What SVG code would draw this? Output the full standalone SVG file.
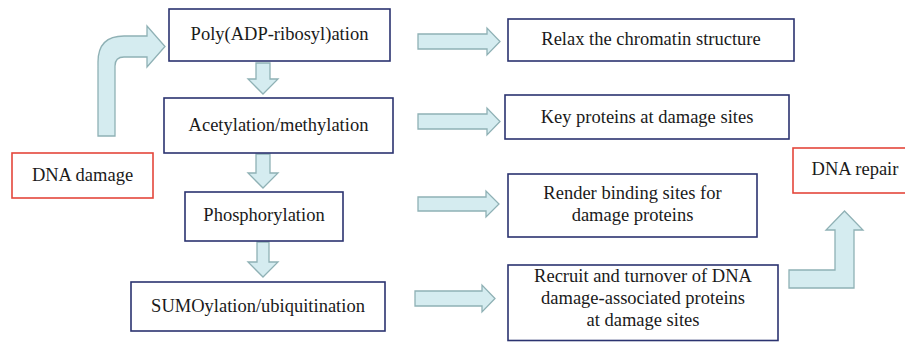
<svg xmlns="http://www.w3.org/2000/svg" width="905" height="342" viewBox="0 0 905 342">
<style>
.box{fill:#fff;stroke:#2b3370;stroke-width:1.6}
.red{fill:#fff;stroke:#e4463b;stroke-width:1.6}
.arr{fill:#d5ecf0;stroke:#8fb1b5;stroke-width:1.3;stroke-linejoin:miter}
text{font-family:"Liberation Serif","Times New Roman",serif;font-size:18.5px;fill:#1a1a1a;text-anchor:middle}
</style>
<rect width="905" height="342" fill="#fff"/>
<g id="connectors">
<path class="arr" d="M98,136 V62 Q98,36 124,36 H147 V26 L165,46.5 L147,67 V57 H124 Q115,57 115,66 V136 Z"/>
<path class="arr" d="M256,63 H270 V79 H278 L263,94 L248,79 H256 Z"/>
<path class="arr" d="M256,154 H270 V173 H278 L263,188 L248,173 H256 Z"/>
<path class="arr" d="M257,242 H269 V262 H278 L263,277 L248,262 H257 Z"/>
<path class="arr" d="M418,34 H487 V28 L500,41.5 L487,55 V49 H418 Z"/>
<path class="arr" d="M418,114 H487 V108 L500,121.5 L487,135 V129 H418 Z"/>
<path class="arr" d="M418,197 H486 V191 L499,204 L486,217 V211 H418 Z"/>
<path class="arr" d="M415,291 H482 V285 L495,298.5 L482,312 V306 H415 Z"/>
<path class="arr" d="M789,270 H835 V230 H826 L844.5,211 L863,230 H854 V288 H789 Z"/>
</g>
<g id="n-poly"><rect class="box" x="169" y="9" width="221" height="52"/><text x="279.5" y="40">Poly(ADP-ribosyl)ation</text></g>
<g id="n-acetyl"><rect class="box" x="164" y="98" width="229" height="55"/><text x="278.5" y="130.5">Acetylation/methylation</text></g>
<g id="n-damage"><rect class="red" x="12" y="153" width="141" height="45"/><text x="82.5" y="180.5">DNA damage</text></g>
<g id="n-phos"><rect class="box" x="185" y="192" width="158" height="49"/><text x="264" y="221">Phosphorylation</text></g>
<g id="n-sumo"><rect class="box" x="131" y="282" width="254" height="49"/><text x="258" y="311.5">SUMOylation/ubiquitination</text></g>
<g id="n-relax"><rect class="box" x="508" y="19" width="286" height="42"/><text x="651" y="45">Relax the chromatin structure</text></g>
<g id="n-key"><rect class="box" x="505" y="95" width="284" height="44"/><text x="647" y="122.5">Key proteins at damage sites</text></g>
<g id="n-repair"><rect class="red" x="793" y="148" width="124" height="45"/><text x="855" y="175">DNA repair</text></g>
<g id="n-render"><rect class="box" x="508" y="174" width="249" height="63"/><text x="632.5" y="199">Render binding sites for</text><text x="632.5" y="221">damage proteins</text></g>
<g id="n-recruit"><rect class="box" x="508" y="265" width="270" height="75.5"/><text x="643" y="281.5">Recruit and turnover of DNA</text><text x="643" y="304">damage-associated proteins</text><text x="643" y="326">at damage sites</text></g>
</svg>
